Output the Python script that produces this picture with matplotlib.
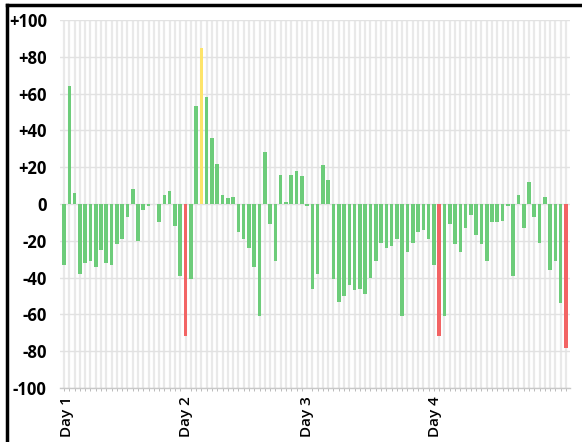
import matplotlib
matplotlib.use("Agg")
import matplotlib.pyplot as plt
from matplotlib.lines import Line2D
import numpy as np

values = [
    -33, 64, 6, -38, -32, -31, -34, -25, -32, -33, -22, -19, -7, 8, -20, -3, -1, 0, -10, 5, 7, -12, -39,
    -72, -41, 53, 85, 58, 36, 22, 5, 3, 4, -15, -19, -24, -34, -61, 28, -11, -31, 16, 1, 16, 18, 15, -1,
    -46, -38, 21, 13, -41, -53, -50, -44, -47, -46, -49, -40, -31, -21, -24, -23, -19, -61, -26, -21, -15, -14, -19, -33,
    -72, -61, -11, -22, -26, -13, -6, -17, -22, -31, -10, -10, -9, -1, -39, 5, -13, 12, -7, -21, 4, -36, -31, -54,
    -78,
]
red_idx = [23, 71, 95]
yellow_idx = [26]
day_labels = ["Day 1", "Day 2", "Day 3", "Day 4"]
day_pos = [0.5, 23, 46, 70.3]
yticks = [100, 80, 60, 40, 20, 0, -20, -40, -60, -80, -100]
ytick_labels = ["+100", "+80", "+60", "+40", "+20", "0", "-20", "-40", "-60", "-80", "-100"]

GREEN = "#6dcc7a"
RED = "#f26464"
YELLOW = "#fde46a"

n = len(values)
colors = []
for i in range(n):
    if i in red_idx:
        colors.append(RED)
    elif i in yellow_idx:
        colors.append(YELLOW)
    else:
        colors.append(GREEN)

fig = plt.figure(figsize=(5.82, 4.42), dpi=100)
W, H = 582, 442
ax = fig.add_axes([60 / W, (H - 388) / H, (570 - 60) / W, (388 - 20) / H])

x = np.arange(n)
ax.bar(x, values, width=0.68, color=colors, zorder=3)

ax.set_ylim(-100, 100)
ax.set_xlim(-0.76, n - 1 + 0.76)
ax.set_yticks(yticks)
ax.set_yticklabels(ytick_labels)
ax.set_xticks(day_pos)
ax.set_xticklabels(day_labels, rotation=90)
ax.set_xticks(x, minor=True)

for v in x:
    ax.axvline(v, color="#e9e9e9", lw=1.6, zorder=1)
for t in yticks:
    ax.axhline(t, color="#e2e2e2", lw=1.0, zorder=1)

for s in ["top", "right", "left"]:
    ax.spines[s].set_visible(False)
ax.spines["bottom"].set_color("#c8c8c8")
ax.spines["bottom"].set_linewidth(1.0)
ax.tick_params(axis="y", length=0, pad=9.5, labelsize=12)
ax.tick_params(axis="x", which="major", length=0, pad=6, labelsize=11)
ax.tick_params(axis="x", which="minor", length=2, color="#b0b0b0")
for lab in ax.get_yticklabels():
    lab.set_fontfamily("Open Sans")
    lab.set_fontweight("bold")
for lab in ax.get_xticklabels():
    lab.set_fontfamily("Open Sans")
    lab.set_fontweight("semibold")

# figure frame lines (top and left)
fig.add_artist(Line2D([7 / W, 1.0], [1 - 5 / H, 1 - 5 / H], transform=fig.transFigure, color="black", lw=2.5))
fig.add_artist(Line2D([7 / W, 7 / W], [0, 1 - 5 / H], transform=fig.transFigure, color="black", lw=2.5))

fig.savefig("out.png", dpi=100)
